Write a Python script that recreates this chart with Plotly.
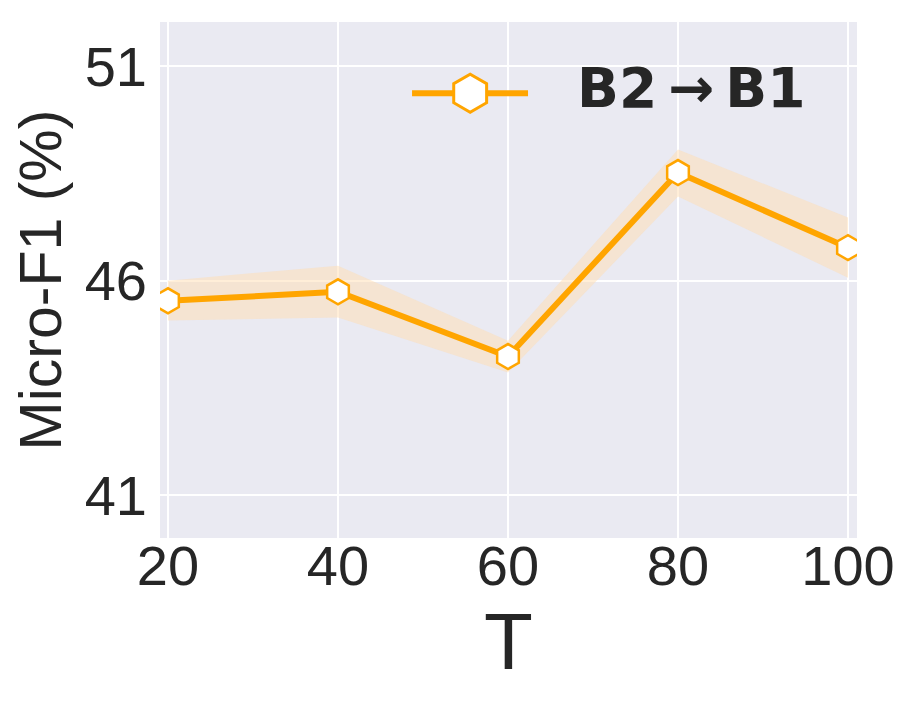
import plotly.graph_objects as go

T_values = [20, 40, 60, 80, 100]
micro_f1 = [45.53, 45.74, 44.23, 48.52, 46.77]
band_upper = [46.00, 46.35, 44.60, 49.06, 47.47]
band_lower = [45.07, 45.14, 43.86, 47.96, 46.07]
y_ticks = [41, 46, 51]
legend_label = "B2\u2009→\u2009B1"

ORANGE = "#FFA500"
BG = "#EAEAF2"
TXT = "#262626"
FONT = "Liberation Sans, Arial, sans-serif"
TICKFONT = dict(family=FONT, size=56, color=TXT)

fig = go.Figure()

# error band
fig.add_trace(go.Scatter(
    x=T_values + T_values[::-1],
    y=band_upper + band_lower[::-1],
    fill="toself", fillcolor="rgba(255,222,178,0.5)",
    line=dict(width=0), mode="lines", hoverinfo="skip", showlegend=False))

# main line
fig.add_trace(go.Scatter(
    x=T_values, y=micro_f1, mode="lines+markers",
    line=dict(color=ORANGE, width=6),
    marker=dict(symbol="hexagon", size=25, color="white",
                line=dict(color=ORANGE, width=2.5)),
    showlegend=False))

# custom legend sample on an overlay axis
fig.add_trace(go.Scatter(
    x=[0.3616, 0.528], y=[0.862, 0.862], mode="lines",
    line=dict(color=ORANGE, width=6), xaxis="x2", yaxis="y2",
    hoverinfo="skip", showlegend=False))
fig.add_trace(go.Scatter(
    x=[0.445], y=[0.862], mode="markers",
    marker=dict(symbol="hexagon", size=38, color="white",
                line=dict(color=ORANGE, width=3)),
    xaxis="x2", yaxis="y2", hoverinfo="skip", showlegend=False))

fig.add_annotation(
    text="<b>" + legend_label + "</b>", xref="paper", yref="paper",
    x=0.595, y=0.872, xanchor="left", yanchor="middle", showarrow=False,
    font=dict(family="DejaVu Sans", size=55, color=TXT))

fig.update_layout(
    width=907, height=696,
    margin=dict(l=152, r=58, t=14, b=166, autoexpand=False),
    paper_bgcolor="white", plot_bgcolor=BG,
    xaxis=dict(range=[19.06, 101.06], tickvals=T_values,
               showgrid=True, gridcolor="white", gridwidth=2,
               zeroline=False, showline=False, ticks="",
               tickfont=TICKFONT, ticklabelstandoff=-10,
               title=dict(text="T", font=dict(family=FONT, size=80, color=TXT), standoff=0)),
    yaxis=dict(range=[40.0, 52.03], tickvals=y_ticks,
               showgrid=True, gridcolor="white", gridwidth=2,
               zeroline=False, showline=False, ticks="",
               tickfont=TICKFONT, ticklabelstandoff=12,
               title=dict(text="Micro-F1 (%)", font=dict(family=FONT, size=59, color=TXT), standoff=8)),
    xaxis2=dict(range=[0, 1], overlaying="x", visible=False, fixedrange=True),
    yaxis2=dict(range=[0, 1], overlaying="y", visible=False, fixedrange=True),
)

fig.write_html("out.html")
